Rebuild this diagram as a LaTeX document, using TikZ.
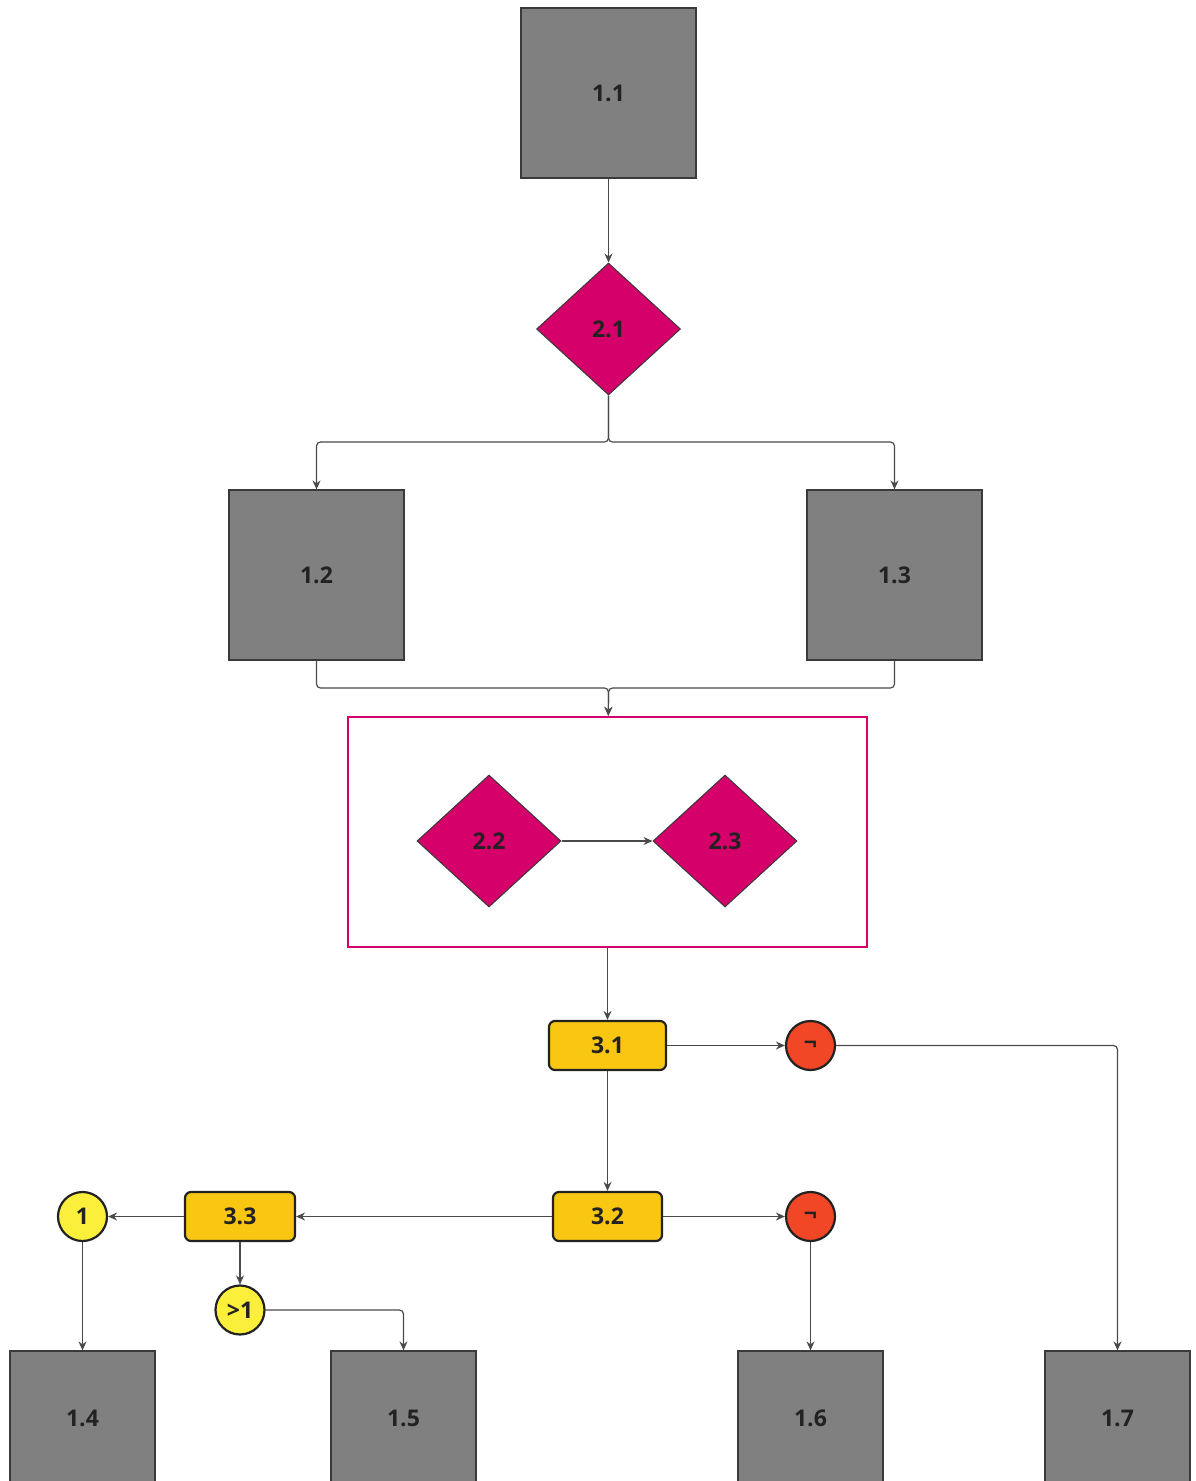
\documentclass[tikz,border=0pt]{standalone}
\usepackage{fontspec}
\setmainfont{Open Sans}
\usetikzlibrary{shapes.geometric,arrows.meta}
\definecolor{boxgray}{HTML}{808080}
\definecolor{edgegray}{HTML}{3A3A3A}
\definecolor{magent}{HTML}{D5006A}
\definecolor{gold}{HTML}{F9C611}
\definecolor{lemon}{HTML}{FCEF3C}
\definecolor{redo}{HTML}{F24726}
\definecolor{txt}{HTML}{222222}
\definecolor{wire}{HTML}{4A4A4A}
\tikzset{
  lbl/.style={font=\fontsize{23}{27}\selectfont\bfseries, text=txt},
  graybox/.style={lbl, draw=edgegray, line width=1.2pt, fill=boxgray, minimum width=175pt, minimum height=170pt, inner sep=0pt},
  lowbox/.style={lbl, draw=edgegray, line width=1.2pt, fill=boxgray, minimum width=145pt, minimum height=134pt, inner sep=0pt},
  dia/.style={lbl, diamond, draw=edgegray, line width=1pt, fill=magent, minimum width=144pt, minimum height=132pt, inner sep=0pt, aspect=1.09},
  opbox/.style={lbl, draw=txt, line width=2.2pt, fill=gold, rounded corners=6pt, minimum height=49pt, inner sep=0pt},
  gate/.style={lbl, circle, draw=txt, line width=2.2pt, minimum size=49pt, inner sep=0pt},
  wired/.style={draw=wire, line width=1.2pt, rounded corners=4pt, -{Stealth[length=9pt,width=8pt]}},
}
\begin{document}
\begin{tikzpicture}[x=1pt,y=-1pt]
\useasboundingbox (0,0) rectangle (1195,1481);
\fill[white] (0,0) rectangle (1195,1481);
% gray boxes
\node[graybox] (n11) at (608.5,93) {1.1};
\node[graybox] (n12) at (316.5,575) {1.2};
\node[graybox] (n13) at (894.5,575) {1.3};
\node[lowbox] (n14) at (82.5,1418) {1.4};
\node[lowbox] (n15) at (403.5,1418) {1.5};
\node[lowbox] (n16) at (810.5,1418) {1.6};
\node[lowbox] (n17) at (1117.5,1418) {1.7};
% diamonds
\node[dia] (d21) at (608.5,329) {2.1};
\node[draw=magent, line width=2.4pt, minimum width=519pt, minimum height=230pt, inner sep=0pt] (grp) at (607.5,832) {};
\node[dia] (d22) at (489,841) {2.2};
\node[dia] (d23) at (725,841) {2.3};
% operators
\node[opbox, minimum width=117pt] (o31) at (607.5,1045.5) {3.1};
\node[opbox, minimum width=109pt] (o32) at (607.5,1216.5) {3.2};
\node[opbox, minimum width=110pt] (o33) at (240,1216.5) {3.3};
\node[gate, fill=redo] (r1) at (810.5,1045.5) {¬};
\node[gate, fill=redo] (r2) at (810.5,1216.5) {¬};
\node[gate, fill=lemon] (g1) at (82.5,1216.5) {1};
\node[gate, fill=lemon] (g2) at (240,1310) {>1};
% junctions
\coordinate (j1) at (608.5,442);
\coordinate (j2) at (608.5,688);
% connectors
\draw[wired] (n11) -- (d21);
\draw[wired] (d21) -- (j1) -| (n12);
\draw[wired] (d21) -- (j1) -| (n13);
\draw[wired] (n12) |- (j2) -- (grp);
\draw[wired] (n13) |- (j2) -- (grp);
\draw[wired] (d22) -- (d23);
\draw[wired] (grp) -- (o31);
\draw[wired] (o31) -- (r1);
\draw[wired] (r1) -| (n17);
\draw[wired] (o31) -- (o32);
\draw[wired] (o32) -- (r2);
\draw[wired] (r2) -- (n16);
\draw[wired] (o32) -- (o33);
\draw[wired] (o33) -- (g1);
\draw[wired] (g1) -- (n14);
\draw[wired] (o33) -- (g2);
\draw[wired] (g2) -| (n15);
\end{tikzpicture}
\end{document}
